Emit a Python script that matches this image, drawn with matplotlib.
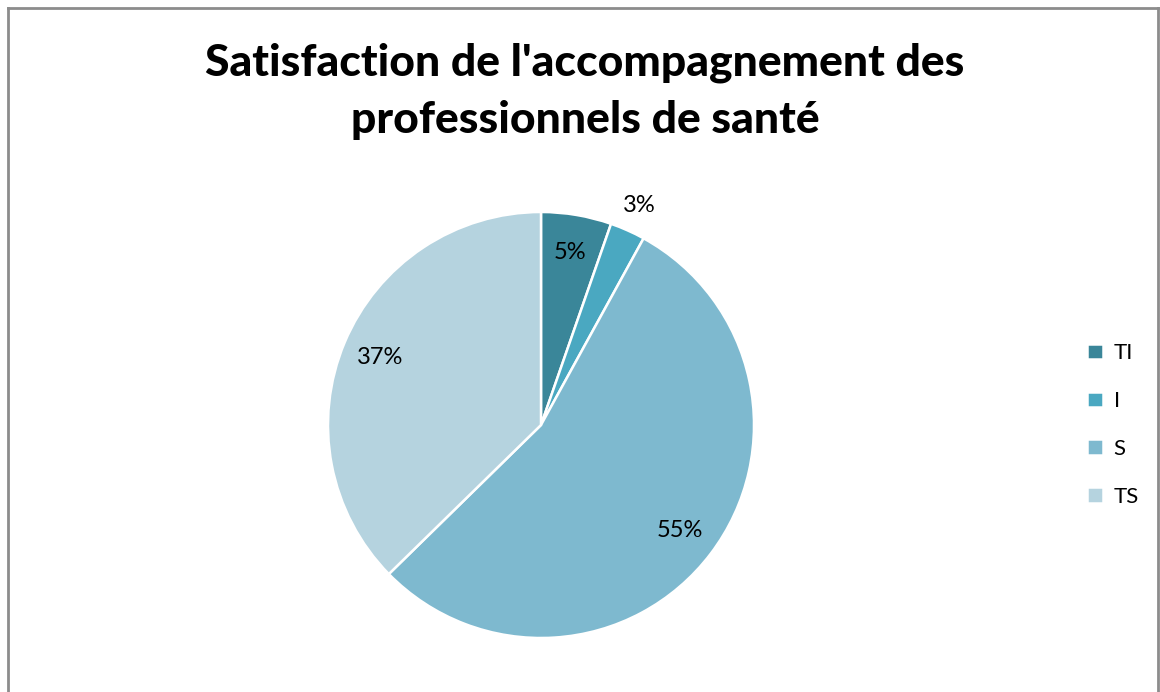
import numpy as np
import matplotlib.pyplot as plt
from matplotlib.lines import Line2D

# données
labels = ['TI', 'I', 'S', 'TS']
counts = [4, 2, 41, 28]
colors = ['#3A8699', '#4AA8C1', '#7EB9CF', '#B5D3DF']
title = "Satisfaction de l'accompagnement des\nprofessionnels de santé"

plt.rcParams['font.family'] = ['Lato', 'DejaVu Sans']

fig = plt.figure(figsize=(11.6, 6.92), dpi=100)

# cadre gris (sans bord inférieur)
for xs, ys in [([8 / 1160, 8 / 1160], [0, 1 - 8 / 692]),
               ([8 / 1160, 1158 / 1160], [1 - 8 / 692, 1 - 8 / 692]),
               ([1158 / 1160, 1158 / 1160], [0, 1 - 8 / 692])]:
    fig.add_artist(Line2D(xs, ys, color='#8C8C8C', lw=2))

fig.text(585 / 1160, 1 - 91 / 692, title, ha='center', va='center',
         fontsize=32, fontweight='black', linespacing=1.5)

ax = fig.add_axes([(541 - 213) / 1160, (267 - 213) / 692, 426 / 1160, 426 / 692])
wedges, texts, autotexts = ax.pie(
    counts, colors=colors, startangle=90, counterclock=False,
    autopct=lambda p: '%.0f%%' % p, pctdistance=0.82,
    wedgeprops=dict(edgecolor='white', linewidth=1.8),
    textprops=dict(fontsize=17, color='black'))
ax.set_xlim(-1, 1)
ax.set_ylim(-1, 1)

# étiquette du petit secteur à l'extérieur
w = wedges[1]
ang = np.deg2rad((w.theta1 + w.theta2) / 2)
autotexts[1].set_position((1.13 * np.cos(ang), 1.13 * np.sin(ang)))

leg = fig.legend(wedges, labels, loc='center left',
                 bbox_to_anchor=(1067 / 1160, 1 - 425 / 692),
                 frameon=False, fontsize=16, handlelength=0.7, handleheight=0.7,
                 labelspacing=1.25, handletextpad=0.5)

fig.savefig('out.png', dpi=100)
